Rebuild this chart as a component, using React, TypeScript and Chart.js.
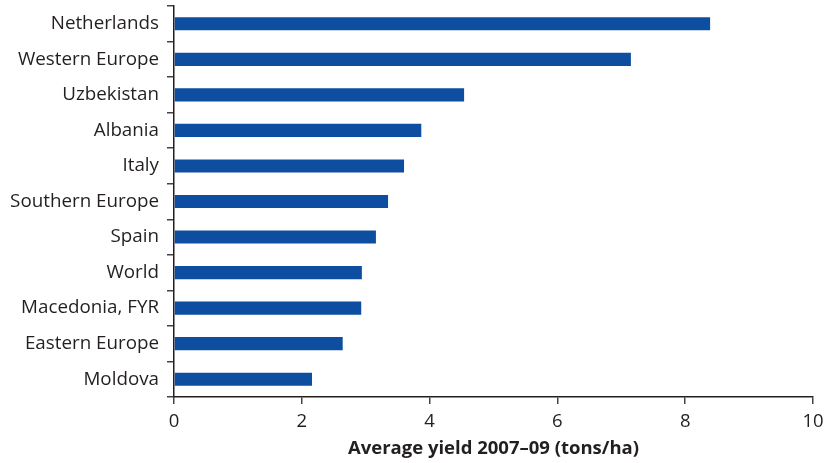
import React, { useEffect, useRef } from "react";
import { Chart, registerables } from "chart.js";

Chart.register(...registerables);

const categories = [
  "Netherlands",
  "Western Europe",
  "Uzbekistan",
  "Albania",
  "Italy",
  "Southern Europe",
  "Spain",
  "World",
  "Macedonia, FYR",
  "Eastern Europe",
  "Moldova",
];
const yieldValues = [8.39, 7.15, 4.54, 3.87, 3.6, 3.35, 3.16, 2.94, 2.93, 2.64, 2.16];
const xTicks = [0, 2, 4, 6, 8, 10];
const xTitle = "Average yield 2007–09 (tons/ha)";

const FONT = "'Open Sans'";
const TEXT = "#231f20";

export default function App() {
  const ref = useRef<HTMLCanvasElement | null>(null);
  useEffect(() => {
    document.body.style.margin = "0";
    const ctx = ref.current!.getContext("2d")!;
    const chart = new Chart(ctx, {
      type: "bar",
      data: {
        labels: categories,
        datasets: [
          {
            data: yieldValues,
            backgroundColor: "#0d4ea0",
            borderWidth: 0,
            categoryPercentage: 1,
            barPercentage: 0.37,
          },
        ],
      },
      options: {
        indexAxis: "y",
        animation: false,
        responsive: false,
        maintainAspectRatio: false,
        layout: { padding: { top: 6, right: 14, left: 0, bottom: 0 } },
        plugins: { legend: { display: false }, tooltip: { enabled: false } },
        scales: {
          x: {
            type: "linear",
            min: 0,
            max: 10,
            afterBuildTicks: (s: any) => {
              s.ticks = xTicks.map((v) => ({ value: v }));
            },
            afterFit: (s: any) => {
              s.height = 66;
              s.paddingLeft = 0;
              s.paddingRight = 0;
            },
            border: { display: true, color: TEXT, width: 1.5 },
            grid: { drawOnChartArea: false, tickLength: 7, color: "#444", lineWidth: 1.5 },
            ticks: { color: TEXT, font: { family: FONT, size: 18.5 }, padding: 7 },
            title: {
              display: true,
              text: xTitle,
              color: TEXT,
              font: { family: FONT, size: 18.5, weight: "bold" },
              padding: { top: 0, bottom: 3 },
            },
          },
          y: {
            type: "category",
            afterFit: (s: any) => {
              s.width = 174;
              s.paddingTop = 0;
              s.paddingBottom = 0;
            },
            border: { display: true, color: TEXT, width: 1.5 },
            grid: { drawOnChartArea: false, tickLength: 7, color: "#444", lineWidth: 1.5, offset: true },
            ticks: { color: TEXT, font: { family: FONT, size: 18.8 }, padding: 8 },
          },
        },
      },
    });
    return () => chart.destroy();
  }, []);
  return (
    <div style={{ width: 827, height: 463 }}>
      <canvas ref={ref} width={827} height={463} style={{ display: "block" }} />
    </div>
  );
}
